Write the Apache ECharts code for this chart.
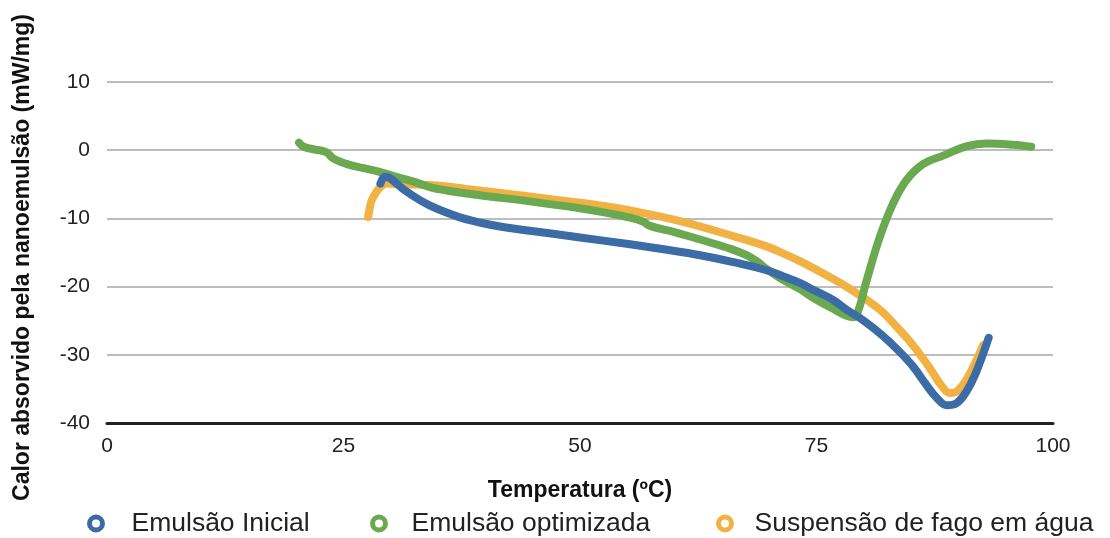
<!DOCTYPE html>
<html>
<head>
<meta charset="utf-8">
<script src="https://cdn.jsdelivr.net/npm/echarts@6/dist/echarts.min.js"></script>
<style>html,body{margin:0;padding:0;background:#fff}#c{width:1110px;height:538px}</style>
</head>
<body>
<div id="c"></div>
<script>
var seriesNames = ['Emulsão Inicial', 'Emulsão optimizada', 'Suspensão de fago em água'];
var xTicks = [0, 25, 50, 75, 100];
var yTicks = [-40, -30, -20, -10, 0, 10];

var inicial = [[28.9,-4.9],[29.4,-3.9],[29.9,-4.1],[31.7,-6.1],[34.1,-8.1],[37,-9.7],[39.4,-10.6],[42,-11.3],[44.7,-11.8],[50,-12.8],[55.3,-13.8],[59.2,-14.6],[62.7,-15.4],[66.2,-16.4],[69.7,-17.6],[71.5,-18.5],[73.3,-19.5],[74.7,-20.5],[76.8,-22],[78.2,-23.4],[80,-25],[82,-27.2],[83.6,-29.3],[85.2,-31.7],[86.5,-34.2],[87.7,-36.3],[88.8,-37.4],[89.8,-37.1],[90.8,-35.5],[91.8,-32.8],[93.2,-27.5]];

var optimizada = [[20.3,1.1],[20.8,0.5],[22,0.1],[23.2,-0.3],[23.9,-1.2],[25.3,-2],[27,-2.6],[28.9,-3.2],[30.6,-3.9],[32.4,-4.6],[34.1,-5.4],[35.9,-5.9],[39.4,-6.6],[44.7,-7.5],[50,-8.5],[52.1,-9],[55.3,-9.9],[56.7,-10.5],[57.4,-11.1],[60,-12],[62.7,-13.1],[66,-14.5],[67.6,-15.4],[68.7,-16.3],[69.7,-17.4],[71.1,-18.7],[73.3,-20.4],[74.6,-21.6],[76.8,-23.3],[78.2,-24.3],[78.9,-24.5],[79.4,-23.6],[80.3,-19.1],[81.7,-12.7],[83.1,-7.8],[84.5,-4.4],[86.3,-2],[88.4,-0.8],[90.9,0.6],[93,1.0],[95.8,0.8],[97.7,0.5]];

var suspensao = [[27.6,-9.8],[27.8,-8.3],[28,-7.3],[28.4,-6.3],[28.9,-5.4],[29.6,-4.9],[31,-5.0],[34.1,-5.1],[39.4,-5.9],[44.7,-6.8],[50,-7.7],[52.1,-8.1],[55.6,-8.9],[60.9,-10.5],[66.2,-12.6],[69.7,-14.1],[71.1,-14.9],[73.3,-16.3],[76.8,-18.9],[78.5,-20.3],[81.7,-23.4],[83.8,-26.4],[85.2,-28.6],[87,-32],[88.2,-34.5],[89.1,-35.6],[89.9,-35.3],[91,-33.3],[92.6,-28.6]];

var colors = ['#3b6ca6', '#6aa950', '#f2b243'];
var F = '"Liberation Sans", Arial, Helvetica, sans-serif';
var legendLeft = [87, 370, 716];
var legendPad = [24, 21, 18];

var chart = echarts.init(document.getElementById('c'));
function mk(name, data, color, z) {
  return {
    name: name, type: 'line', data: data, smooth: 0.4, showSymbol: false, symbol: 'none', z: z,
    lineStyle: { color: color, width: 8, cap: 'round', join: 'round' },
    itemStyle: { color: color }
  };
}
chart.setOption({
  animation: false,
  textStyle: { fontFamily: F },
  grid: { left: 107, right: 57, top: 82, bottom: 115, containLabel: false },
  xAxis: {
    type: 'value', min: xTicks[0], max: xTicks[xTicks.length - 1], interval: 25,
    name: 'Temperatura (ºC)', nameLocation: 'middle', nameGap: 56,
    nameTextStyle: { fontFamily: F, fontSize: 23, fontWeight: 'bold', color: '#111' },
    axisLine: { onZero: false, lineStyle: { color: '#222', width: 3 } },
    axisTick: { show: false },
    splitLine: { show: false },
    axisLabel: { fontFamily: F, fontSize: 21, color: '#222', margin: 13 }
  },
  yAxis: {
    type: 'value', min: yTicks[0], max: yTicks[yTicks.length - 1], interval: 10,
    name: 'Calor absorvido pela nanoemulsão (mW/mg)', nameLocation: 'middle', nameGap: 73,
    nameTextStyle: { fontFamily: F, fontSize: 23, fontWeight: 'bold', color: '#111', padding: [0, 10, 0, 0] },
    axisLine: { show: false },
    axisTick: { show: false },
    splitLine: { lineStyle: { color: '#bdbdbd', width: 2 } },
    axisLabel: { fontFamily: F, fontSize: 21, color: '#222', margin: 17 }
  },
  legend: seriesNames.map(function (n, i) {
    return {
      left: legendLeft[i], top: 510, padding: 0, itemWidth: 13, itemHeight: 13,
      textStyle: { fontFamily: F, fontSize: 26.5, color: '#222', padding: [0, 0, 0, legendPad[i]] },
      data: [{ name: n, icon: 'circle', itemStyle: { color: '#ffffff', borderColor: colors[i], borderWidth: 5 } }]
    };
  }),
  series: [
    mk(seriesNames[0], inicial, colors[0], 4),
    mk(seriesNames[1], optimizada, colors[1], 3),
    mk(seriesNames[2], suspensao, colors[2], 2)
  ]
});
</script>
</body>
</html>
